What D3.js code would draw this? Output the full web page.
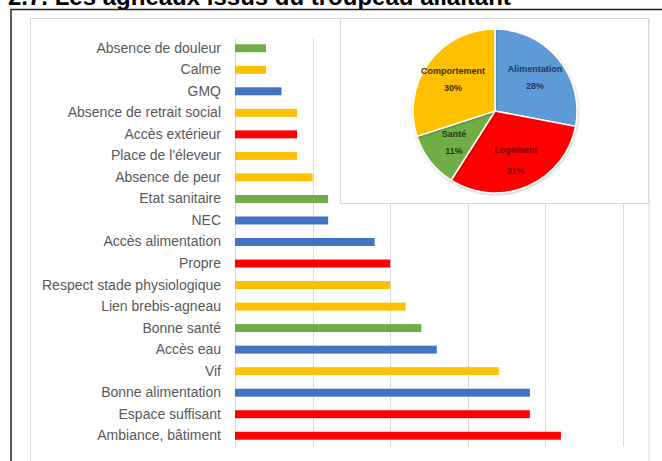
<!DOCTYPE html>
<html>
<head>
<meta charset="utf-8">
<script src="https://cdnjs.cloudflare.com/ajax/libs/d3/7.8.5/d3.min.js"></script>
<style>
  html, body { margin: 0; padding: 0; background: #fff; }
  svg { display: block; }
</style>
</head>
<body>
<script>
// ---- data ----
const categories = ["Absence de douleur","Calme","GMQ","Absence de retrait social","Accès extérieur","Place de l'éleveur","Absence de peur","Etat sanitaire","NEC","Accès alimentation","Propre","Respect stade physiologique","Lien brebis-agneau","Bonne santé","Accès eau","Vif","Bonne alimentation","Espace suffisant","Ambiance, bâtiment"];
const values = [2,2,3,4,4,4,5,6,6,9,10,10,11,12,13,17,19,19,21];
const groups = ["Santé","Comportement","Alimentation","Comportement","Logement","Comportement","Comportement","Santé","Alimentation","Alimentation","Logement","Comportement","Comportement","Santé","Alimentation","Comportement","Alimentation","Logement","Logement"];
const xTicks = [0,5,10,15,20,25];

const pieLabels = ["Alimentation","Logement","Santé","Comportement"];
const pieValues = [28,31,11,30];

const titleText = "2.7. Les agneaux issus du troupeau allaitant";

// ---- styles ----
const barColor = {"Alimentation":"#4472C4","Logement":"#FF0000","Santé":"#70AD47","Comportement":"#FFC000"};
const pieColor = {"Alimentation":"#5B9BD5","Logement":"#FF0000","Santé":"#70AD47","Comportement":"#FFC000"};
const pieText = {"Alimentation":"#1F3864","Logement":"#7F0000","Santé":"#1E3A12","Comportement":"#3D2E00"};

const W = 662, H = 461;
const svg = d3.select("body").append("svg").attr("width", W).attr("height", H);

// title (cut off at top, as in the reference)
svg.append("text")
  .attr("x", 8).attr("y", 4.5)
  .attr("font-family", "Liberation Sans, Arial, sans-serif")
  .attr("font-weight", "bold")
  .attr("font-size", 24)
  .attr("fill", "#000")
  .text(titleText);

// outer black frame
svg.append("rect")
  .attr("x", 11).attr("y", 9.5).attr("width", 700).attr("height", 500)
  .attr("fill", "#fff").attr("stroke", "#222").attr("stroke-width", 1.5);

// chart area
svg.append("rect")
  .attr("x", 30.5).attr("y", 18.5).attr("width", 618.5).attr("height", 480)
  .attr("fill", "#fff").attr("stroke", "#d9d9d9").attr("stroke-width", 1);

// scales
const x = d3.scaleLinear().domain([0, 25]).range([235, 623]);
const y = d3.scaleBand().domain(categories).range([37.5, 446.5])
  .paddingInner(0.63).paddingOuter(0.315);

// gridlines
svg.append("g").selectAll("line").data(xTicks).join("line")
  .attr("x1", d => Math.round(x(d)) + 0.5).attr("x2", d => Math.round(x(d)) + 0.5)
  .attr("y1", 37.5).attr("y2", 446.5)
  .attr("stroke", "#d9d9d9").attr("stroke-width", 1);

// bars
svg.append("g").selectAll("rect").data(categories).join("rect")
  .attr("x", x(0))
  .attr("y", d => y(d))
  .attr("width", (d, i) => x(values[i]) - x(0))
  .attr("height", y.bandwidth())
  .attr("fill", (d, i) => barColor[groups[i]]);

// y axis labels
const yAxis = d3.axisLeft(y).tickSize(0).tickPadding(0);
const ya = svg.append("g").attr("transform", "translate(221,0)").call(yAxis);
ya.select(".domain").remove();
ya.selectAll("text")
  .attr("font-family", "Liberation Sans, Arial, sans-serif")
  .attr("font-size", 14)
  .attr("fill", "#595959");

// pie box
svg.append("rect")
  .attr("x", 340.5).attr("y", 18.5).attr("width", 308).attr("height", 185)
  .attr("fill", "#fff").attr("stroke", "#d9d9d9").attr("stroke-width", 1);

const cx = 495, cy = 111, R = 82;
const pie = d3.pie().sort(null).value(d => d.v);
const pieData = pie(pieLabels.map((l, i) => ({l, v: pieValues[i]})));
const arc = d3.arc().innerRadius(0).outerRadius(R);
const labelArc = d3.arc().innerRadius(52).outerRadius(52);

const pg = svg.append("g").attr("transform", `translate(${cx},${cy})`);

// subtle shadow
const defs = svg.append("defs");
const f = defs.append("filter").attr("id", "sh").attr("x", "-20%").attr("y", "-20%").attr("width", "140%").attr("height", "140%");
f.append("feDropShadow").attr("dx", 0.5).attr("dy", 1).attr("stdDeviation", 1).attr("flood-color", "#000").attr("flood-opacity", 0.25);

pg.selectAll("path").data(pieData).join("path")
  .attr("d", arc)
  .attr("fill", d => pieColor[d.data.l])
  .attr("stroke", "#fff").attr("stroke-width", 1.5)
  .attr("filter", "url(#sh)");

const lab = pg.selectAll("g.lab").data(pieData).join("g").attr("class", "lab")
  .attr("transform", d => `translate(${labelArc.centroid(d)})`);
lab.append("text")
  .attr("text-anchor", "middle").attr("y", -6)
  .attr("font-family", "Liberation Sans, Arial, sans-serif")
  .attr("font-weight", "bold").attr("font-size", 9)
  .attr("fill", d => pieText[d.data.l])
  .text(d => d.data.l);
lab.append("text")
  .attr("text-anchor", "middle").attr("y", d => d.data.l === "Logement" ? 15 : 11)
  .attr("font-family", "Liberation Sans, Arial, sans-serif")
  .attr("font-weight", "bold").attr("font-size", 9)
  .attr("fill", d => pieText[d.data.l])
  .text(d => d.data.v + "%");
</script>
</body>
</html>
